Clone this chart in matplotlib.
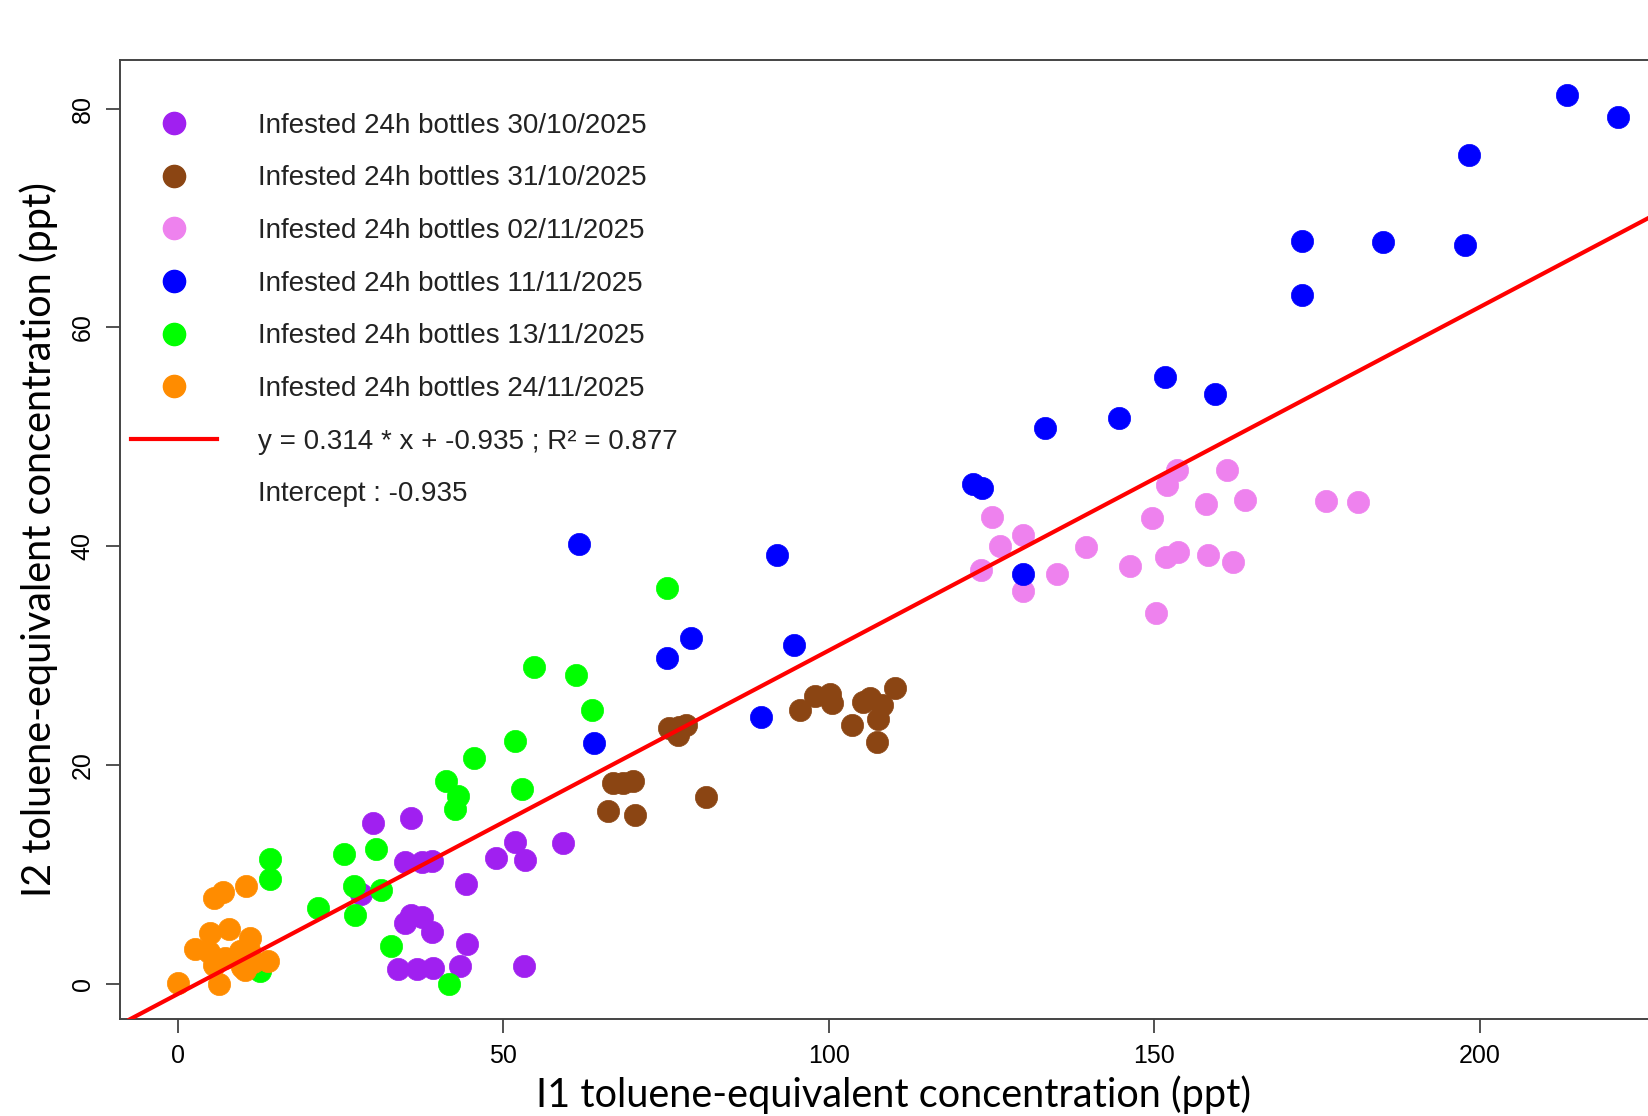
import matplotlib
matplotlib.use("Agg")
import matplotlib.pyplot as plt
from matplotlib import font_manager
from matplotlib.lines import Line2D

# ---- data (I1 vs I2, ppt) ----
x_3010 = [30.0, 35.8, 34.9, 37.5, 39.0, 28.2, 34.9, 35.9, 37.5, 39.0, 44.4,
          33.9, 36.7, 39.2, 43.3, 53.2, 44.2, 48.9, 51.8, 53.3, 59.2]
y_3010 = [14.7, 15.2, 11.1, 11.1, 11.2, 8.2, 5.6, 6.3, 6.1, 4.75, 3.6,
          1.35, 1.35, 1.4, 1.6, 1.6, 9.1, 11.5, 13.0, 11.3, 12.9]

x_3110 = [75.4, 77.0, 78.0, 76.8, 66.9, 68.4, 69.9, 66.1, 70.2, 81.2, 95.6,
          97.9, 100.2, 100.5, 103.6, 105.3, 106.4, 108.1, 107.6, 107.4, 110.2]
y_3110 = [23.4, 23.5, 23.7, 22.7, 18.4, 18.4, 18.5, 15.8, 15.4, 17.1, 25.0,
          26.3, 26.5, 25.7, 23.7, 25.8, 26.1, 25.5, 24.2, 22.1, 27.0]

x_0211 = [125.1, 126.3, 129.8, 123.4, 129.8, 135.1, 139.5, 146.3, 150.3, 149.6, 151.9,
          153.5, 151.8, 153.7, 158.0, 161.1, 164.0, 158.2, 162.1, 176.4, 181.3]
y_0211 = [42.7, 40.0, 41.0, 37.8, 35.9, 37.5, 39.9, 38.2, 33.9, 42.6, 45.6,
          47.0, 39.0, 39.5, 43.9, 47.0, 44.2, 39.2, 38.6, 44.1, 44.0]

x_1111 = [213.4, 221.3, 198.4, 172.7, 185.2, 197.7, 172.7, 151.6, 159.3, 133.2, 144.6,
          122.2, 123.6, 129.9, 61.7, 92.0, 78.8, 75.1, 94.6, 63.9, 89.6]
y_1111 = [81.2, 79.2, 75.8, 67.9, 67.8, 67.5, 63.0, 55.5, 53.9, 50.8, 51.7,
          45.7, 45.3, 37.5, 40.2, 39.2, 31.6, 29.8, 31.0, 22.0, 24.4]

x_1311 = [75.1, 54.7, 61.2, 63.6, 51.8, 52.9, 45.5, 41.2, 43.0, 42.6, 25.5,
          30.5, 14.2, 14.2, 21.5, 27.1, 27.3, 31.2, 32.8, 41.6, 12.6]
y_1311 = [36.2, 29.0, 28.2, 25.0, 22.2, 17.8, 20.6, 18.5, 17.2, 16.0, 11.9,
          12.3, 11.4, 9.6, 6.9, 8.9, 6.3, 8.6, 3.5, 0.0, 1.2]

x_2411 = [0.0, 2.7, 4.9, 7.9, 11.1, 10.9, 5.6, 6.9, 10.5, 5.5, 7.2,
          6.4, 9.9, 10.4, 11.5, 13.9, 4.8, 9.5]
y_2411 = [0.1, 3.2, 4.6, 5.0, 4.2, 3.1, 7.8, 8.4, 8.9, 1.7, 2.4,
          0.0, 1.5, 1.3, 2.0, 2.1, 2.9, 3.0]

series = [
    ("Infested 24h bottles 30/10/2025", x_3010, y_3010, "#A020F0"),
    ("Infested 24h bottles 31/10/2025", x_3110, y_3110, "#8B4513"),
    ("Infested 24h bottles 02/11/2025", x_0211, y_0211, "#EE82EE"),
    ("Infested 24h bottles 11/11/2025", x_1111, y_1111, "#0000FF"),
    ("Infested 24h bottles 13/11/2025", x_1311, y_1311, "#00FF00"),
    ("Infested 24h bottles 24/11/2025", x_2411, y_2411, "#FF8C00"),
]

slope = 0.314
intercept = -0.935
r2 = 0.877

x_ticks = [0, 50, 100, 150, 200]
y_ticks = [0, 20, 40, 60, 80]


def pick_font(names, default="DejaVu Sans"):
    have = {f.name for f in font_manager.fontManager.ttflist}
    for n in names:
        if n in have:
            return n
    return default


narrow = pick_font(["Liberation Sans Narrow", "Liberation Sans"])
label_font = pick_font(["Lato", "Open Sans", "Liberation Sans"])

fig = plt.figure(figsize=(16.48, 11.16), dpi=100)
ax = fig.add_axes([0.0727, 0.0866, 0.9473, 0.8597])

for name, xs, ys, col in series:
    ax.plot(xs, ys, linestyle="none", marker="o", markersize=16,
            markerfacecolor=col, markeredgecolor=col, markeredgewidth=0.5)

ax.axline((0, intercept), slope=slope, color="#FF0000", linewidth=3, zorder=5)

ax.set_xlim(-8.9, 230.9)
ax.set_ylim(-3.25, 84.45)

ax.set_xticks(x_ticks)
ax.set_yticks(y_ticks)
ax.set_xticklabels([str(t) for t in x_ticks], fontsize=18, family=narrow)
ax.set_yticklabels([str(t) for t in y_ticks], fontsize=18, family=narrow,
                   rotation=90, va="center")
ax.tick_params(axis="both", direction="out", length=10, width=1.2,
               color="#333333")
ax.tick_params(axis="x", pad=8)
ax.tick_params(axis="y", pad=8)

for side in ["left", "top", "bottom", "right"]:
    ax.spines[side].set_linewidth(1.4)
    ax.spines[side].set_color("#444444")

ax.set_xlabel("I1 toluene-equivalent concentration (ppt)", fontsize=28.6,
              family=label_font, labelpad=5)
# the axes run past the right edge, so centre the label on the visible part
ax.xaxis.label.set_x(0.4953)
ax.set_ylabel("I2 toluene-equivalent concentration (ppt)", fontsize=28.6,
              family=label_font, labelpad=9)

handles = [Line2D([], [], linestyle="none", marker="o", markersize=16,
                  markerfacecolor=c, markeredgecolor=c) for _, _, _, c in series]
labels = [n for n, _, _, _ in series]
handles.append(Line2D([], [], color="#FF0000", linewidth=3))
labels.append(f"y = {slope} * x + {intercept} ; R\u00b2 = {r2}")
handles.append(Line2D([], [], linestyle="none"))
labels.append(f"Intercept : {intercept}")

leg = ax.legend(handles, labels, loc="upper left", bbox_to_anchor=(0.0074, 0.945),
                frameon=False, borderpad=0, borderaxespad=0, handlelength=3.1,
                handletextpad=1.47, labelspacing=0.96,
                prop={"family": narrow, "size": 20})
for t in leg.get_texts():
    t.set_color("#222222")

fig.savefig("out.png", dpi=100)
